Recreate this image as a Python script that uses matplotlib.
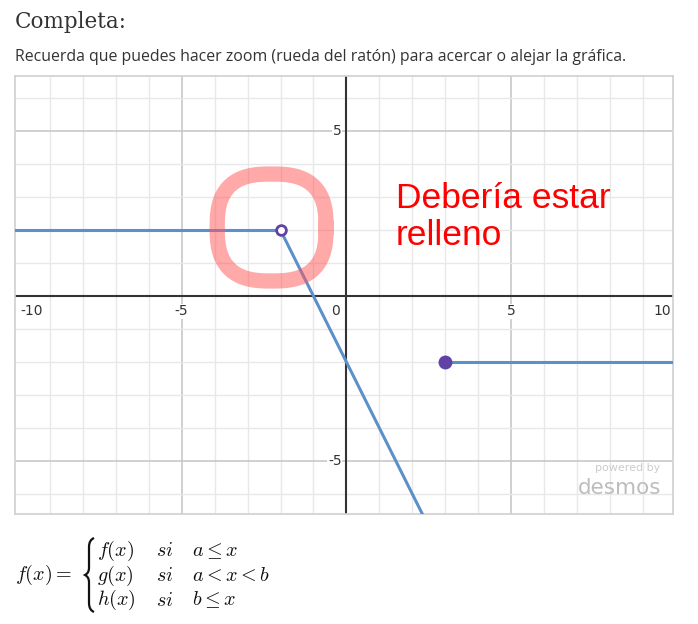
import matplotlib
matplotlib.use("Agg")
import matplotlib.pyplot as plt
import numpy as np
from matplotlib.patches import PathPatch
from matplotlib.path import Path

# piece values
left_x = [-10.5, -2]
left_y = [2, 2]
mid_x = [-2, 2.5]
mid_y = [2, -7]
right_x = [3, 10.5]
right_y = [-2, -2]
open_pt = (-2, 2)
closed_pt = (3, -2)

x_labels = [-10, -5, 0, 5, 10]
y_labels = [5, -5]

W, H = 698, 624
fig = plt.figure(figsize=(W / 100, H / 100), dpi=100)

fig.text(15 / W, 1 - 22 / H, "Completa:", family="DejaVu Serif", fontsize=15.5,
         color="#333333", va="center", ha="left")
fig.text(15 / W, 1 - 57 / H,
         "Recuerda que puedes hacer zoom (rueda del ratón) para acercar o alejar la gráfica.",
         family="Open Sans", fontsize=11.4, color="#333333", va="center", ha="left")

ax = fig.add_axes([15 / W, 1 - 514 / H, (673 - 15) / W, (514 - 76) / H])
ax.set_xlim(-10.05, 9.9)
ax.set_ylim(-6.6, 6.67)
ax.set_xticks([])
ax.set_yticks([])
for s in ax.spines.values():
    s.set_color("#d0d0d0")
    s.set_linewidth(1.2)

# grid
for v in range(-9, 10):
    ax.axvline(v, color="#c4c4c4" if v % 5 == 0 else "#e8e8e8", lw=1.1 if v % 5 == 0 else 1, zorder=0)
for v in range(-6, 7):
    ax.axhline(v, color="#c4c4c4" if v % 5 == 0 else "#e8e8e8", lw=1.1 if v % 5 == 0 else 1, zorder=0)
ax.axvline(0, color="#333333", lw=1.5, zorder=1)
ax.axhline(0, color="#333333", lw=1.5, zorder=1)

# tick labels
for v in x_labels:
    ha = "center"
    xx = v
    if v == -10:
        ha, xx = "left", v + 0.1
    elif v == 10:
        ha, xx = "right", v - 0.15
    elif v == 0:
        ha, xx = "right", -0.2
    ax.text(xx, -0.25, str(v), ha=ha, va="top", fontsize=10, color="#333333",
            family="DejaVu Sans", zorder=2,
            bbox=dict(facecolor="white", edgecolor="none", pad=0.5) if v != 0 else None)
for v in y_labels:
    ax.text(-0.15, v, str(v), ha="right", va="center", fontsize=10, color="#333333",
            family="DejaVu Sans", zorder=2,
            bbox=dict(facecolor="white", edgecolor="none", pad=0.5))

blue = "#5d8fca"
purple = "#6042a6"
ax.plot(left_x, left_y, color=blue, lw=2.2, zorder=3, solid_capstyle="butt")
ax.plot(mid_x, mid_y, color=blue, lw=2.2, zorder=3)
ax.plot(right_x, right_y, color=blue, lw=2.2, zorder=3)
ax.plot(*open_pt, "o", ms=7, mfc="white", mec=purple, mew=2, zorder=4)
ax.plot(*closed_pt, "o", ms=9, mfc=purple, mec=purple, zorder=4)

# red hand-drawn ring (squircle)
t = np.linspace(0, 2 * np.pi, 200)
n = 2.7
rx = -2.27 + 1.65 * np.sign(np.cos(t)) * np.abs(np.cos(t)) ** (2 / n)
ry = 2.08 + 1.62 * np.sign(np.sin(t)) * np.abs(np.sin(t)) ** (2 / n)
ax.plot(rx, ry, color="#ff5555", alpha=0.5, lw=11, zorder=5, solid_joinstyle="round")
ax.text(1.5, 2.4, "Debería estar\nrelleno", color="#ff0000", fontsize=25.5,
        family="Liberation Sans", va="center", ha="left", linespacing=1.15, zorder=6)

# watermark
ax.text(9.5, -5.2, "powered by", color="#cccccc", fontsize=8, ha="right", va="center",
        family="DejaVu Sans", zorder=2)
ax.text(9.55, -5.8, "desmos", color="#bdbdbd", fontsize=15.5, ha="right", va="center",
        family="DejaVu Sans", zorder=2)

# piecewise formula
plt.rcParams["mathtext.fontset"] = "cm"
fs = 14.5
fig.text(15 / W, 1 - 575 / H, r"$f(x) =$", fontsize=fs, va="center", ha="left", color="#111111")
rows = [(r"$f(x)$", r"$si$", r"$a \leq x$"),
        (r"$g(x)$", r"$si$", r"$a < x < b$"),
        (r"$h(x)$", r"$si$", r"$b \leq x$")]
for i, (c1, c2, c3) in enumerate(rows):
    yy = 1 - (551 + 24.5 * i) / H
    fig.text(97 / W, yy, c1, fontsize=fs, va="center", ha="left", color="#111111")
    fig.text(156 / W, yy, c2, fontsize=fs, va="center", ha="left", color="#111111")
    fig.text(192 / W, yy, c3, fontsize=fs, va="center", ha="left", color="#111111")

# brace
bx, top, bot = 89, 538, 612
mid = (top + bot) / 2
pts = [(bx + 5, top), (bx, top + 2), (bx, top + 9), (bx, mid - 7),
       (bx, mid - 2), (bx - 4, mid), (bx - 4, mid),
       (bx, mid + 2), (bx, mid + 7), (bx, bot - 9),
       (bx, bot - 2), (bx + 5, bot)]
codes = [Path.MOVETO, Path.CURVE3, Path.CURVE3, Path.LINETO,
         Path.CURVE3, Path.CURVE3, Path.LINETO,
         Path.CURVE3, Path.CURVE3, Path.LINETO,
         Path.CURVE3, Path.CURVE3]
verts = [(x / W, 1 - y / H) for x, y in pts]
fig.patches.append(PathPatch(Path(verts, codes), transform=fig.transFigure, fill=False,
                             edgecolor="#111111", lw=1.6))

fig.savefig("out.png", dpi=100)
